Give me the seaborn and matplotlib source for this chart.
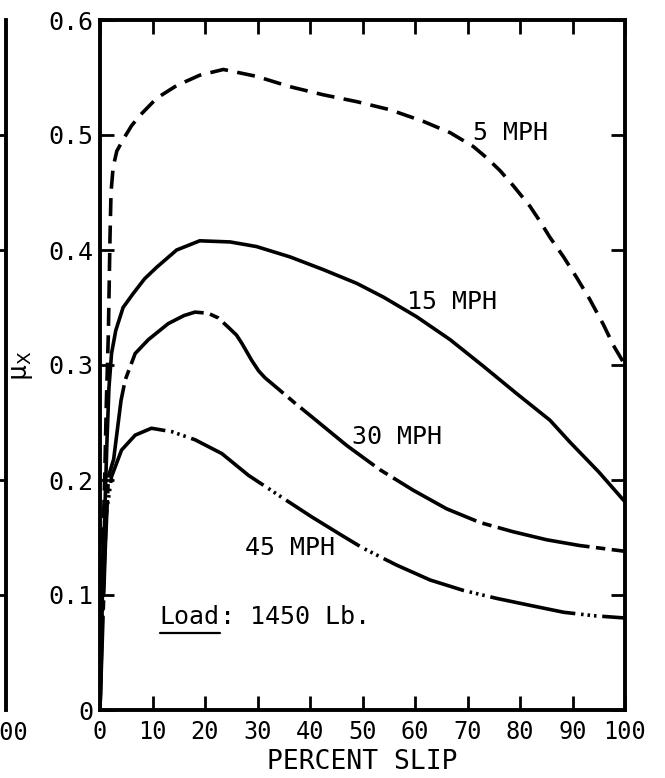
import matplotlib
matplotlib.use("Agg")
import matplotlib.pyplot as plt
import seaborn as sns
import pandas as pd
from matplotlib.lines import Line2D

# ---- data ----
x_5 = [0, 0.5, 0.9, 1.2, 1.6, 1.9, 2.1, 2.5, 3.2, 4.4, 6.0, 7.6, 10.8, 14.6, 19.0, 23.5,
       29.8, 36.2, 42.5, 48.9, 55.2, 61.5, 66.7, 71.1, 73.7, 76.2, 78.7, 81.9, 83.8, 85.7,
       88.3, 90.8, 93.3, 95.9, 97.8, 100]
y_5 = [0, 0.139, 0.203, 0.266, 0.329, 0.41, 0.45, 0.472, 0.486, 0.496, 0.508, 0.517, 0.532,
       0.543, 0.552, 0.557, 0.551, 0.542, 0.535, 0.529, 0.522, 0.512, 0.502, 0.490, 0.480,
       0.469, 0.456, 0.438, 0.425, 0.411, 0.394, 0.376, 0.357, 0.335, 0.317, 0.300]

x_15 = [0, 0.4, 0.9, 1.3, 1.7, 2.2, 3.0, 4.4, 6.3, 8.5, 10.8, 14.6, 19.0, 24.8, 29.8, 36.2,
        42.5, 48.9, 54.0, 60.3, 66.7, 73.0, 79.4, 85.7, 89.5, 95.0, 100]
y_15 = [0, 0.09, 0.17, 0.23, 0.28, 0.31, 0.33, 0.35, 0.362, 0.375, 0.385, 0.400, 0.408, 0.407,
        0.403, 0.394, 0.383, 0.371, 0.359, 0.342, 0.322, 0.299, 0.275, 0.252, 0.233, 0.207, 0.181]

x_30 = [0, 0.5, 1.0, 1.6, 2.6, 4.0, 4.8, 6.7, 9.2, 13.0, 16.0, 18.1, 20.6, 22.5, 24.4, 26.0,
        27.0, 28.9, 30.2, 31.4, 34.0, 37.1, 40.6, 47.0, 53.3, 59.7, 66.0, 72.4, 78.7, 85.1,
        91.4, 100]
y_30 = [0, 0.07, 0.14, 0.203, 0.218, 0.269, 0.287, 0.310, 0.322, 0.336, 0.343, 0.346, 0.345,
        0.341, 0.333, 0.326, 0.319, 0.304, 0.295, 0.289, 0.279, 0.267, 0.254, 0.230, 0.209,
        0.191, 0.175, 0.163, 0.155, 0.148, 0.143, 0.138]

x_45 = [0, 0.5, 1.2, 2.2, 4.1, 6.7, 9.8, 13.7, 18.1, 23.2, 28.3, 34.6, 40.3, 46.0, 50.0,
        56.5, 62.9, 69.2, 75.6, 81.9, 88.3, 94.0, 100]
y_45 = [0, 0.09, 0.17, 0.203, 0.226, 0.239, 0.245, 0.242, 0.235, 0.223, 0.204, 0.185, 0.168,
        0.152, 0.141, 0.126, 0.113, 0.104, 0.097, 0.091, 0.085, 0.082, 0.080]

speeds = ["5 MPH", "15 MPH", "30 MPH", "45 MPH"]
x_ticks = [0, 10, 20, 30, 40, 50, 60, 70, 80, 90, 100]
y_ticks = [0, 0.1, 0.2, 0.3, 0.4, 0.5, 0.6]
y_tick_labels = ["0", "0.1", "0.2", "0.3", "0.4", "0.5", "0.6"]

frames = []
for name, xs, ys in zip(speeds, [x_5, x_15, x_30, x_45], [y_5, y_15, y_30, y_45]):
    frames.append(pd.DataFrame({"slip": xs, "mu": ys, "speed": name}))
df = pd.concat(frames, ignore_index=True)

sns.set_style("ticks")
plt.rcParams["font.family"] = ["DejaVu Sans Mono", "DejaVu Sans"]
plt.rcParams["text.color"] = "black"
plt.rcParams["axes.labelcolor"] = "black"
plt.rcParams["xtick.color"] = "black"
plt.rcParams["ytick.color"] = "black"

MONO = ["DejaVu Sans Mono", "DejaVu Sans"]

fig = plt.figure(figsize=(6.65, 7.78), dpi=100)
ax = fig.add_axes([100 / 665, 1 - 710 / 778, 525 / 665, 690 / 778])

sns.lineplot(data=df, x="slip", y="mu", hue="speed", style="speed",
             palette={s: "black" for s in speeds},
             dashes={"5 MPH": (5, 2.6), "15 MPH": "",
                     "30 MPH": (26, 1.8, 2.6, 1.8),
                     "45 MPH": (24, 1.6, 0.7, 1.1, 0.7, 1.1, 0.7, 1.6)},
             linewidth=2.6, legend=False, ax=ax, sort=False, estimator=None)

ax.set_xlim(0, 100)
ax.set_ylim(0, 0.6)
ax.set_xticks(x_ticks)
ax.set_yticks(y_ticks)
ax.set_yticklabels(y_tick_labels)
for s in ax.spines.values():
    s.set_linewidth(2.8)
    s.set_color("black")
ax.tick_params(direction="in", length=10, width=2, top=True, right=True,
               colors="black")
for lab in ax.get_xticklabels():
    lab.set_family(MONO)
    lab.set_fontsize(17)
for lab in ax.get_yticklabels():
    lab.set_family(MONO)
    lab.set_fontsize(18)
ax.tick_params(axis="y", pad=5)
ax.tick_params(axis="x", pad=7)

ax.set_xlabel("PERCENT SLIP", family=MONO, fontsize=19, labelpad=4, color="black")
ax.set_ylabel("")
fig.text(22 / 665, 1 - 366 / 778, r"μ$_\mathrm{X}$", family=MONO, fontsize=19,
         rotation=90, ha="center", va="center", color="black")

txt_kw = dict(family=MONO, fontsize=18, va="center", ha="left", color="black")
ax.text(71.0, 0.502, "5 MPH", **txt_kw)
ax.text(58.5, 0.355, "15 MPH", **txt_kw)
ax.text(48.0, 0.237, "30 MPH", **txt_kw)
ax.text(27.6, 0.141, "45 MPH", **txt_kw)

load = ax.text(11.4, 0.081, "Load", **txt_kw)
ax.annotate(": 1450 Lb.", xy=(1, 0.5), xycoords=load, va="center", ha="left",
            family=MONO, fontsize=18, color="black")

# neighbouring panel fragment at the left edge
ax2 = fig.add_axes([(6 - 300) / 665, 1 - 710 / 778, 300 / 665, 690 / 778])
ax2.set_xlim(0, 100)
ax2.set_ylim(0, 0.6)
for k in ["top", "left", "bottom"]:
    ax2.spines[k].set_visible(False)
ax2.spines["right"].set_linewidth(2.8)
ax2.spines["right"].set_color("black")
ax2.yaxis.tick_right()
ax2.set_yticks([0.1, 0.2, 0.4, 0.5])
ax2.tick_params(axis="y", direction="in", length=8, width=2, labelright=False)
ax2.set_xticks([100])
ax2.set_xticklabels(["100"])
ax2.tick_params(axis="x", length=0, pad=8)
for lab in ax2.get_xticklabels():
    lab.set_family(MONO)
    lab.set_fontsize(17)
ax2.patch.set_visible(False)

fig.canvas.draw()
bb = load.get_window_extent()
inv = fig.transFigure.inverted()
(x0, y0), (x1, y1) = inv.transform([(bb.x0, bb.y0 - 4), (bb.x1, bb.y0 - 4)])
fig.add_artist(Line2D([x0, x1], [y0, y1], transform=fig.transFigure,
                      color="black", linewidth=1.6))

fig.savefig("out.png", dpi=100)
